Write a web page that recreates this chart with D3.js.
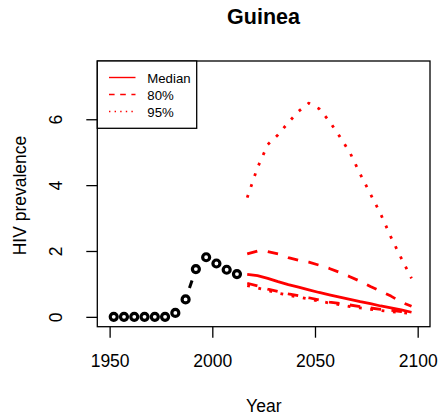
<!DOCTYPE html>
<html>
<head>
<meta charset="utf-8">
<script src="https://cdn.jsdelivr.net/npm/d3@7"></script>
<style>
  body { margin: 0; background: #fff; }
  svg { display: block; }
  text { font-family: "Liberation Sans", Arial, Helvetica, sans-serif; fill: #000; }
</style>
</head>
<body>
<svg id="chart" width="443" height="419"></svg>
<script>
// Observed HIV prevalence (%), five-year steps
const obsYears = [1952, 1957, 1962, 1967, 1972, 1977, 1982, 1987, 1992, 1997, 2002, 2007, 2012];
const obsValues = [0, 0, 0, 0, 0, 0, 0.12, 0.53, 1.45, 1.81, 1.62, 1.43, 1.30];

// Projection years and quantiles
const projYears = [2017, 2022, 2027, 2032, 2037, 2042, 2047, 2052, 2057, 2062, 2067, 2072, 2077, 2082, 2087, 2092, 2097];
const median = [1.29, 1.25, 1.17, 1.07, 0.98, 0.90, 0.82, 0.74, 0.67, 0.60, 0.53, 0.46, 0.40, 0.33, 0.27, 0.21, 0.14];
const upper80 = [1.91, 2.00, 1.98, 1.91, 1.80, 1.72, 1.66, 1.57, 1.47, 1.35, 1.22, 1.08, 0.92, 0.78, 0.63, 0.45, 0.32];
const lower80 = [1.02, 0.94, 0.84, 0.77, 0.70, 0.64, 0.58, 0.51, 0.45, 0.41, 0.36, 0.31, 0.27, 0.23, 0.20, 0.16, 0.13];
const upper95 = [3.62, 4.53, 5.23, 5.53, 5.90, 6.24, 6.49, 6.32, 5.94, 5.48, 4.99, 4.34, 3.73, 3.12, 2.42, 1.78, 1.17];
const lower95 = [0.95, 0.88, 0.80, 0.72, 0.66, 0.60, 0.54, 0.48, 0.42, 0.37, 0.31, 0.27, 0.23, 0.19, 0.16, 0.13, 0.10];

// Axis ticks and legend entries
const xTicks = [1950, 2000, 2050, 2100];
const yTicks = [0, 2, 4, 6];
const legendLabels = ["Median", "80%", "95%"];

const svg = d3.select("#chart");
const plot = { left: 97.3, right: 430, top: 61, bottom: 326.7 };

// Axis ranges padded by 4% around xlim = [1950, 2100] and ylim = [0, 7.47]
const x = d3.scaleLinear().domain([1944, 2106]).range([plot.left, plot.right]);
const y = d3.scaleLinear().domain([-0.2988, 7.7688]).range([plot.bottom, plot.top]);

const red = "#ff0000";
const lineW = 2.8;
const dashed = "10.5,10.5";
const dotted = "2.8,8.6";

const line = d3.line().x(d => x(d[0])).y(d => y(d[1]));
const series = vals => projYears.map((yr, i) => [yr, vals[i]]);

// Projection bands
const bands = [
  { vals: upper95, dash: dotted },
  { vals: lower95, dash: dotted },
  { vals: upper80, dash: dashed },
  { vals: lower80, dash: dashed },
  { vals: median, dash: null }
];
bands.forEach(b => {
  svg.append("path")
    .attr("d", line(series(b.vals)))
    .attr("fill", "none")
    .attr("stroke", red)
    .attr("stroke-width", lineW)
    .attr("stroke-dasharray", b.dash)
    .attr("stroke-linecap", "butt")
    .attr("stroke-linejoin", "round");
});

// Observed series: circles joined by line pieces that stop short of each point
const obs = obsYears.map((yr, i) => [x(yr), y(obsValues[i])]);
const gap = 12;
for (let i = 0; i < obs.length - 1; i++) {
  const [x0, y0] = obs[i], [x1, y1] = obs[i + 1];
  const len = Math.hypot(x1 - x0, y1 - y0);
  if (len <= 2 * gap) continue;
  const ux = (x1 - x0) / len, uy = (y1 - y0) / len;
  svg.append("line")
    .attr("x1", x0 + ux * gap).attr("y1", y0 + uy * gap)
    .attr("x2", x1 - ux * gap).attr("y2", y1 - uy * gap)
    .attr("stroke", "#000")
    .attr("stroke-width", 3);
}
svg.append("g")
  .selectAll("circle")
  .data(obsYears.map((yr, i) => [yr, obsValues[i]]))
  .join("circle")
  .attr("cx", d => x(d[0]))
  .attr("cy", d => y(d[1]))
  .attr("r", 3.5)
  .attr("fill", "none")
  .attr("stroke", "#000")
  .attr("stroke-width", 3.2);

// Axes
const xAxis = svg.append("g")
  .attr("transform", `translate(0,${plot.bottom})`)
  .call(d3.axisBottom(x).tickValues(xTicks).tickSize(11).tickFormat(d3.format("d")));
xAxis.select(".domain").remove();
xAxis.selectAll(".tick line").attr("stroke", "#000").attr("stroke-width", 1.3);
xAxis.selectAll(".tick text")
  .attr("dy", null)
  .attr("y", 40.8)
  .attr("font-size", 17.5)
  .attr("font-family", null)
  .attr("fill", "#000");

const yAxis = svg.append("g")
  .attr("transform", `translate(${plot.left},0)`)
  .call(d3.axisLeft(y).tickValues(yTicks).tickSize(11));
yAxis.select(".domain").remove();
yAxis.selectAll(".tick line").attr("stroke", "#000").attr("stroke-width", 1.3);
yAxis.selectAll(".tick text")
  .attr("x", 0)
  .attr("y", 0)
  .attr("dy", null)
  .attr("text-anchor", "middle")
  .attr("transform", "translate(-35.3,0) rotate(-90)")
  .attr("font-size", 17.5)
  .attr("font-family", null)
  .attr("fill", "#000");

// Plot frame
svg.append("rect")
  .attr("x", plot.left).attr("y", plot.top)
  .attr("width", plot.right - plot.left)
  .attr("height", plot.bottom - plot.top)
  .attr("fill", "none")
  .attr("stroke", "#000")
  .attr("stroke-width", 1.3);

// Title and axis labels
svg.append("text")
  .attr("x", 263.5).attr("y", 24.3)
  .attr("text-anchor", "middle")
  .attr("font-weight", "bold")
  .attr("font-size", 21.5)
  .text("Guinea");

svg.append("text")
  .attr("x", 263.8).attr("y", 412)
  .attr("text-anchor", "middle")
  .attr("font-size", 17.5)
  .text("Year");

svg.append("text")
  .attr("transform", "translate(25.5,195.5) rotate(-90)")
  .attr("text-anchor", "middle")
  .attr("font-size", 17.5)
  .text("HIV prevalence");

// Legend
const legend = svg.append("g");
legend.append("rect")
  .attr("x", plot.left).attr("y", plot.top)
  .attr("width", 99.4).attr("height", 67.3)
  .attr("fill", "#fff")
  .attr("stroke", "#000")
  .attr("stroke-width", 1.3);
const legendDash = [null, "5.6,5.6", "1.4,4.2"];
const rowY = [77.5, 94.5, 111.5];
legendLabels.forEach((lab, i) => {
  legend.append("line")
    .attr("x1", 109).attr("x2", 135.5)
    .attr("y1", rowY[i]).attr("y2", rowY[i])
    .attr("stroke", red)
    .attr("stroke-width", 1.4)
    .attr("stroke-dasharray", legendDash[i]);
  legend.append("text")
    .attr("x", 147.3).attr("y", rowY[i] + 5)
    .attr("font-size", 13.2)
    .text(lab);
});
</script>
</body>
</html>
